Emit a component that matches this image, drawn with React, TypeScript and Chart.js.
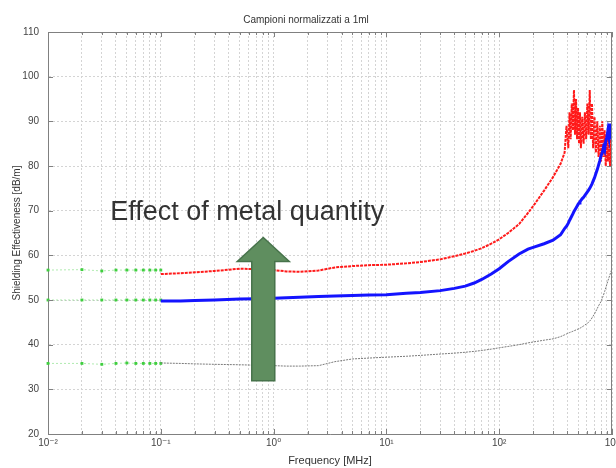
import React, { useEffect, useRef } from "react";
import { Chart, registerables } from "chart.js";

Chart.register(...registerables);

const FONT = '"Liberation Sans", "DejaVu Sans", Arial, sans-serif';

const TITLE = "Campioni normalizzati a 1ml";
const X_TITLE = "Frequency [MHz]";
const Y_TITLE = "Shielding Effectiveness [dB/m]";
const ANNOTATION = "Effect of metal quantity";

// axis ticks
const X_DECADES = [0.01, 0.1, 1, 10, 100, 1000];
const X_DECADE_LABELS = ["10⁻²", "10⁻¹", "10⁰", "10¹", "10²", "10³"];
const X_MINOR_STEPS = [1, 2, 3, 4, 5, 6, 7, 8, 9];
const Y_MIN = 20;
const Y_MAX = 110;
const Y_STEP = 10;

// low-frequency calibration points (green)
const lowFreq = [0.01, 0.02, 0.03, 0.04, 0.05, 0.06, 0.07, 0.08, 0.09, 0.1];
const greenHigh = [56.7, 56.8, 56.5, 56.7, 56.7, 56.7, 56.7, 56.7, 56.7, 56.7];
const greenMid = [50.0, 50.0, 50.0, 50.0, 50.0, 50.0, 50.0, 50.0, 50.0, 50.0];
const greenLow = [35.8, 35.8, 35.6, 35.8, 35.9, 35.8, 35.8, 35.8, 35.8, 35.8];

// swept measurement, 0.1 – 350 MHz
const sweepFreq = [0.1, 0.15, 0.2, 0.3, 0.5, 0.7, 1, 1.3, 1.7, 2.5, 3.5, 5, 7, 10, 15, 20, 30, 40, 50, 60, 70, 85, 100, 120, 150, 180, 200, 250, 300, 350];
const redSweep = [55.8, 56.0, 56.2, 56.5, 57.0, 56.9, 56.7, 56.4, 56.3, 56.6, 57.3, 57.6, 57.8, 57.9, 58.2, 58.5, 59.1, 59.8, 60.4, 61.0, 61.6, 62.6, 63.6, 65.0, 67.0, 69.5, 71.0, 74.5, 77.5, 80.5];
const blueSweep = [49.8, 49.8, 49.9, 50.0, 50.2, 50.3, 50.4, 50.5, 50.6, 50.8, 50.9, 51.0, 51.1, 51.2, 51.5, 51.7, 52.1, 52.6, 53.1, 53.8, 54.6, 55.8, 57.0, 58.6, 60.3, 61.4, 61.8, 62.6, 63.4, 64.6];
const graySweep = [35.9, 35.8, 35.7, 35.6, 35.5, 35.4, 35.3, 35.2, 35.2, 35.3, 36.2, 36.8, 37.0, 37.2, 37.4, 37.6, 37.9, 38.1, 38.3, 38.5, 38.7, 39.0, 39.3, 39.6, 40.0, 40.4, 40.6, 41.0, 41.3, 41.8];

// swept measurement, 380 – 1000 MHz (resonance region)
const hfFreq = [380, 395, 410, 420, 430, 440, 450, 460, 470, 480, 490, 500, 510, 520, 530, 545, 560, 575, 590, 605, 620, 635, 650, 665, 680, 700, 720, 740, 760, 780, 800, 820, 840, 860, 880, 900, 920, 940, 960, 980, 1000];
const redHf = [83, 89, 84, 92, 86, 94, 88, 97, 87, 95, 86, 93, 85, 92, 84, 91, 85, 92, 86, 94, 87, 97, 86, 94, 84, 91, 83, 90, 82, 89, 81, 90, 82, 88, 80, 87, 81, 88, 80, 86, 81];
const blueHf = [66.0, 66.5, 67.2, 67.8, 68.3, 68.8, 69.3, 69.8, 70.2, 70.6, 71.0, 71.4, 71.7, 72.0, 72.3, 72.7, 73.0, 73.4, 73.8, 74.2, 74.6, 75.0, 75.5, 76.0, 76.6, 77.4, 78.3, 79.2, 80.2, 81.2, 82.3, 83.0, 84.2, 83.5, 85.6, 86.4, 88.0, 86.5, 89.5, 87.5, 86.0];
const grayHf = [42.2, 42.4, 42.6, 42.7, 42.8, 42.9, 43.0, 43.1, 43.2, 43.3, 43.4, 43.5, 43.6, 43.7, 43.8, 44.0, 44.2, 44.4, 44.6, 44.8, 45.0, 45.3, 45.6, 46.0, 46.4, 46.9, 47.5, 48.1, 48.7, 49.2, 49.7, 50.4, 51.1, 51.9, 52.7, 53.5, 54.3, 55.0, 55.7, 56.4, 57.0];

// annotation placement (data coordinates)
const ARROW_FREQ = 0.81;
const ARROW_TOP = 64;
const ARROW_BOTTOM = 31.9;
const TEXT_FREQ = 0.0356;
const TEXT_VALUE = 68.0;

const toPoints = (xs: number[], ys: number[]) => xs.map((x, i) => ({ x, y: ys[i] }));

const X_GRID: number[] = [];
X_DECADES.slice(0, -1).forEach((d) => X_MINOR_STEPS.forEach((k) => X_GRID.push(+(k * d).toPrecision(6))));
X_GRID.push(X_DECADES[X_DECADES.length - 1]);

const decadeLabel = (v: number) => {
  const i = X_DECADES.findIndex((d) => Math.abs(Math.log10(d) - Math.log10(v)) < 1e-6);
  return i >= 0 ? X_DECADE_LABELS[i] : "";
};

const framePlugin = {
  id: "frame",
  afterDatasetsDraw(chart: any) {
    const { ctx, chartArea: a, scales } = chart;
    ctx.save();
    ctx.strokeStyle = "#808080";
    ctx.lineWidth = 1;
    ctx.beginPath();
    ctx.moveTo(a.left, a.top + 0.5);
    ctx.lineTo(a.right - 0.5, a.top + 0.5);
    ctx.lineTo(a.right - 0.5, a.bottom);
    scales.x.ticks.forEach((t: any) => {
      const px = Math.round(scales.x.getPixelForValue(t.value)) + 0.5;
      const len = decadeLabel(t.value) ? 5 : 3;
      ctx.moveTo(px, a.bottom);
      ctx.lineTo(px, a.bottom - len);
      ctx.moveTo(px, a.top);
      ctx.lineTo(px, a.top + len);
    });
    scales.y.ticks.forEach((t: any) => {
      const py = Math.round(scales.y.getPixelForValue(t.value)) + 0.5;
      ctx.moveTo(a.left, py);
      ctx.lineTo(a.left + 5, py);
      ctx.moveTo(a.right, py);
      ctx.lineTo(a.right - 5, py);
    });
    ctx.stroke();
    ctx.restore();
  },
};

const annotationPlugin = {
  id: "metalArrow",
  afterDatasetsDraw(chart: any) {
    const { ctx, scales } = chart;
    const cx = scales.x.getPixelForValue(ARROW_FREQ);
    const yTip = scales.y.getPixelForValue(ARROW_TOP);
    const yBase = scales.y.getPixelForValue(ARROW_BOTTOM);
    const shaft = 11.5;
    const head = 26;
    const headH = 24;
    ctx.save();
    ctx.beginPath();
    ctx.moveTo(cx, yTip);
    ctx.lineTo(cx + head, yTip + headH);
    ctx.lineTo(cx + shaft, yTip + headH);
    ctx.lineTo(cx + shaft, yBase);
    ctx.lineTo(cx - shaft, yBase);
    ctx.lineTo(cx - shaft, yTip + headH);
    ctx.lineTo(cx - head, yTip + headH);
    ctx.closePath();
    ctx.fillStyle = "#5f8e5f";
    ctx.fill();
    ctx.strokeStyle = "#47734b";
    ctx.lineWidth = 1.5;
    ctx.stroke();

    ctx.font = `27px ${FONT}`;
    ctx.fillStyle = "#333333";
    ctx.textBaseline = "alphabetic";
    ctx.textAlign = "left";
    ctx.fillText(ANNOTATION, scales.x.getPixelForValue(TEXT_FREQ), scales.y.getPixelForValue(TEXT_VALUE));
    ctx.restore();
  },
};

export default function App() {
  const ref = useRef<HTMLCanvasElement | null>(null);

  useEffect(() => {
    if (!ref.current) return;
    const greenSet = (ys: number[]) => ({
      data: toPoints(lowFreq, ys),
      borderColor: "rgba(80,210,80,0.45)",
      borderWidth: 1,
      borderDash: [2, 2],
      pointStyle: "rect",
      pointRadius: 2,
      pointBackgroundColor: "#3fcf3f",
      pointBorderColor: "#3fcf3f",
      pointBorderWidth: 0,
      tension: 0,
      clip: false,
    });
    const chart = new Chart(ref.current, {
      type: "line",
      data: {
        datasets: [
          {
            data: toPoints(sweepFreq.concat(hfFreq), graySweep.concat(grayHf)),
            borderColor: "#7a7a7a",
            borderWidth: 1,
            borderDash: [2, 1],
            pointRadius: 0,
          },
          {
            data: toPoints(sweepFreq.concat(hfFreq), blueSweep.concat(blueHf)),
            borderColor: "#1414ff",
            borderWidth: 3,
            pointRadius: 0,
          },
          {
            data: toPoints(sweepFreq.concat(hfFreq), redSweep.concat(redHf)),
            borderColor: "#ff1a1a",
            borderWidth: 2,
            borderDash: [3, 1],
            pointRadius: 0,
          },
          greenSet(greenHigh),
          greenSet(greenMid),
          greenSet(greenLow),
        ] as any,
      },
      options: {
        animation: false,
        responsive: false,
        maintainAspectRatio: false,
        layout: { padding: { left: 0, right: 4, top: 0, bottom: 0 } },
        plugins: {
          legend: { display: false },
          tooltip: { enabled: false },
          title: {
            display: true,
            text: TITLE,
            color: "#333",
            font: { size: 10, family: FONT, weight: "normal" },
            padding: { top: 14, bottom: 6 },
          },
        },
        scales: {
          x: {
            type: "logarithmic",
            min: X_DECADES[0],
            max: X_DECADES[X_DECADES.length - 1],
            afterBuildTicks: (s: any) => {
              s.ticks = X_GRID.map((value) => ({ value }));
            },
            afterFit: (s: any) => {
              s.height = 34;
              s.paddingLeft = 0;
              s.paddingRight = 0;
            },
            ticks: {
              autoSkip: false,
              maxRotation: 0,
              padding: 3,
              color: "#444",
              font: { size: 10, family: FONT },
              callback: (v: any) => decadeLabel(Number(v)),
            },
            grid: { color: "#d4d4d4", drawTicks: false, lineWidth: 1 },
            border: { color: "#808080", dash: [2, 2] },
            title: {
              display: true,
              text: X_TITLE,
              color: "#333",
              font: { size: 11, family: FONT },
              padding: { top: 4, bottom: 0 },
            },
          },
          y: {
            min: Y_MIN,
            max: Y_MAX,
            afterFit: (s: any) => {
              s.width = 48;
              s.paddingTop = 0;
              s.paddingBottom = 0;
            },
            ticks: {
              stepSize: Y_STEP,
              padding: 9,
              color: "#444",
              font: { size: 10, family: FONT },
            },
            grid: { color: "#d4d4d4", drawTicks: false, lineWidth: 1 },
            border: { color: "#808080", dash: [2, 2] },
            title: {
              display: true,
              text: Y_TITLE,
              color: "#333",
              font: { size: 10, family: FONT },
              padding: { top: 11, bottom: 0 },
            },
          },
        },
      } as any,
      plugins: [framePlugin, annotationPlugin],
    });
    return () => chart.destroy();
  }, []);

  return (
    <div style={{ position: "absolute", left: 0, top: 0, width: 616, height: 468, background: "#fff" }}>
      <canvas ref={ref} width={616} height={468} style={{ width: 616, height: 468, display: "block" }} />
    </div>
  );
}
